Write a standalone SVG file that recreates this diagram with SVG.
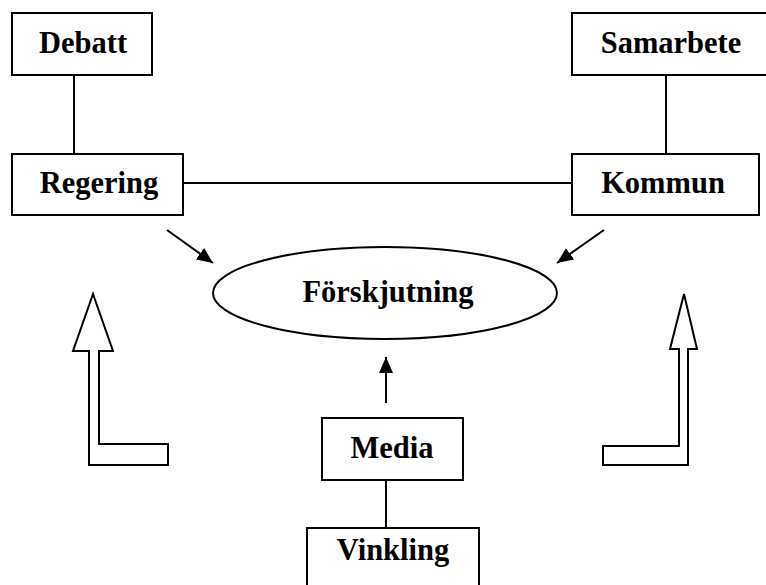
<svg xmlns="http://www.w3.org/2000/svg" width="766" height="585" viewBox="0 0 766 585">
<style>
.box{fill:#fff;stroke:#000;stroke-width:2}
.ln{stroke:#000;stroke-width:2;fill:none}
.big{fill:#fff;stroke:#000;stroke-width:2;stroke-linejoin:miter}
text{font-family:"Liberation Serif","Times New Roman",serif;font-weight:bold;font-size:30.5px;text-anchor:middle;fill:#000}
</style>
<defs>
<marker id="ah2" viewBox="0 0 16 14" refX="16" refY="7" markerWidth="16" markerHeight="14" markerUnits="userSpaceOnUse" orient="auto">
<path d="M0,0 L16,7 L0,14 z" fill="#000"/>
</marker>
</defs>
<rect width="766" height="585" fill="#fff"/>
<g id="connectors">
<line class="ln" x1="74" y1="75" x2="74" y2="154"/>
<line class="ln" x1="666" y1="75" x2="666" y2="154"/>
<line class="ln" x1="183" y1="183" x2="572" y2="183"/>
<line class="ln" x1="386" y1="480" x2="386" y2="528"/>
<line class="ln" x1="167" y1="230" x2="213" y2="263" marker-end="url(#ah2)"/>
<line class="ln" x1="604" y1="230" x2="557" y2="263" marker-end="url(#ah2)"/>
<line class="ln" x1="386" y1="403" x2="386" y2="357" marker-end="url(#ah2)"/>
</g>
<g id="debatt">
<rect class="box" x="12" y="13" width="140" height="62"/>
<text x="83" y="53">Debatt</text>
</g>
<g id="samarbete">
<rect class="box" x="572" y="13" width="200" height="62"/>
<text x="671" y="53">Samarbete</text>
</g>
<g id="regering">
<rect class="box" x="12" y="154" width="171" height="61"/>
<text x="99" y="193">Regering</text>
</g>
<g id="kommun">
<rect class="box" x="572" y="154" width="187" height="61"/>
<text x="663" y="193">Kommun</text>
</g>
<g id="forskjutning">
<ellipse class="box" cx="385" cy="293" rx="172" ry="46"/>
<text x="388" y="302">Förskjutning</text>
</g>
<g id="media">
<rect class="box" x="322" y="418" width="141" height="62"/>
<text x="392" y="458">Media</text>
</g>
<g id="vinkling">
<rect class="box" x="307" y="528" width="172" height="70"/>
<text x="393" y="560">Vinkling</text>
</g>
<g id="left-arrow">
<polygon class="big" points="93,294 113,351 99,351 99,444 168,444 168,465 89,465 89,351 73,351"/>
</g>
<g id="right-arrow">
<polygon class="big" points="684,294 697,349 688,349 688,465 603,465 603,446 679,446 679,349 670,349"/>
</g>
</svg>
